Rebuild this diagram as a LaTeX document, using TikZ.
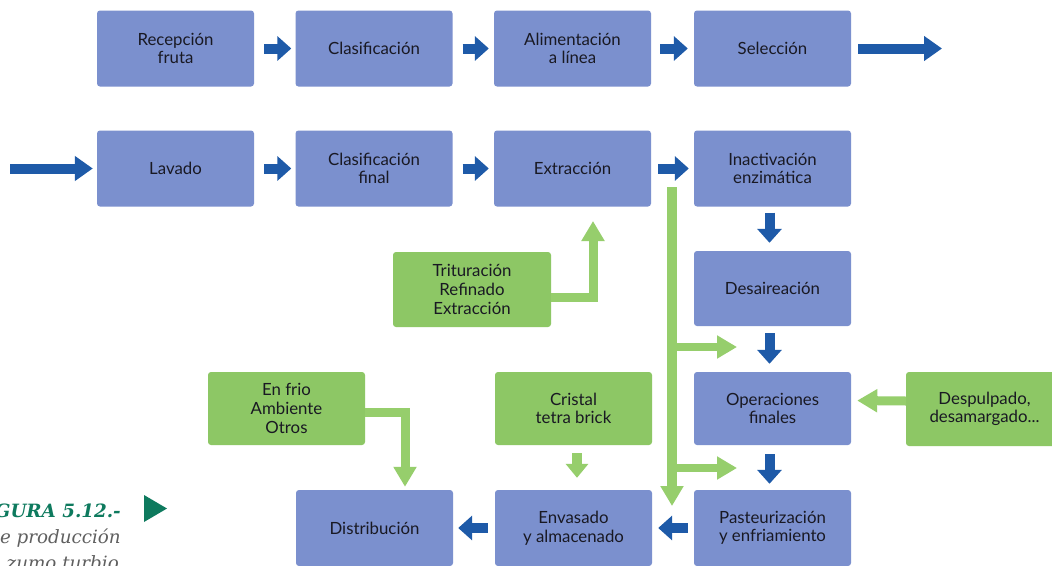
\documentclass[tikz,border=0pt]{standalone}
\usepackage{fontspec}
\setmainfont{Lato}
\newfontfamily\capfont{DejaVu Serif}
\usetikzlibrary{arrows.meta}
\definecolor{boxblue}{RGB}{123,144,206}
\definecolor{boxgreen}{RGB}{141,199,101}
\definecolor{arrblue}{RGB}{30,90,168}
\definecolor{arrgreen}{RGB}{150,206,108}
\definecolor{capgreen}{RGB}{14,122,94}
\definecolor{capgray}{RGB}{95,95,95}
\definecolor{txt}{RGB}{25,25,35}
\begin{document}
\begin{tikzpicture}[x=1pt,y=-1pt,
  bbox/.style={fill=boxblue, rounded corners=3pt, minimum width=157pt, minimum height=76pt,
    inner sep=0pt, align=center, text=txt, font=\fontsize{16.8}{18.6}\selectfont},
  gbox/.style={bbox, fill=boxgreen},
  barrow/.style={draw=arrblue, line width=10pt, -{Triangle[length=14pt,width=24pt]}},
  blong/.style={draw=arrblue, line width=10pt, -{Triangle[length=18pt,width=24pt]}},
  garrow/.style={draw=arrgreen, line width=9pt, -{Triangle[length=20pt,width=22pt]}},
  gshort/.style={draw=arrgreen, line width=10pt, -{Triangle[length=14pt,width=22pt]}},
  captext/.style={anchor=base east, inner sep=0pt, font=\capfont\itshape\fontsize{18.3}{22}\selectfont, text=capgray},
]
\useasboundingbox (0,0) rectangle (1052,565);
\clip (0,0) rectangle (1052,565);
\fill[white] (0,0) rectangle (1052,565);

% row 1
\node[bbox] (rec) at (175.5,48.5) {Recepción\\fruta};
\node[bbox] (cla) at (374,48.5) {Clasificación};
\node[bbox] (ali) at (572.5,48.5) {Alimentación\\a línea};
\node[bbox] (sel) at (772.5,48.5) {Selección};
% row 2
\node[bbox] (lav) at (175.5,168.5) {Lavado};
\node[bbox] (clf) at (374,168.5) {Clasificación\\final};
\node[bbox] (ext) at (572.5,168.5) {Extracción};
\node[bbox] (ina) at (772.5,168.5) {Inactivación\\enzimática};
% column
\node[bbox, minimum height=75pt] (des) at (772.5,288.5) {Desaireación};
\node[bbox, minimum height=73pt] (ope) at (772.5,408.5) {Operaciones\\finales};
\node[bbox] (pas) at (772.5,528) {Pasteurización\\y enfriamiento};
\node[bbox] (env) at (573.5,528) {Envasado\\y almacenado};
\node[bbox] (dis) at (374.5,528) {Distribución};
% green boxes
\node[gbox, minimum width=158pt, minimum height=75pt] (tri) at (472,289.5) {Trituración\\Refinado\\Extracción};
\node[gbox, minimum height=73pt] (enf) at (286.5,408.5) {En frio\\Ambiente\\Otros};
\node[gbox, minimum height=73pt] (cri) at (573.5,408.5) {Cristal\\tetra brick};
\node[gbox, minimum height=74pt] (dsp) at (984.5,409) {Despulpado,\\desamargado...};

% blue arrows
\draw[barrow, shorten <=10pt, shorten >=4pt] (rec) -- (cla);
\draw[barrow, shorten <=10pt, shorten >=5pt] (cla) -- (ali);
\draw[barrow, shorten <=9pt, shorten >=6pt] (ali) -- (sel);
\coordinate (out1) at (942,48.5);
\draw[blong, shorten <=7pt] (sel) -- (out1);
\coordinate (in2) at (10,168.5);
\draw[blong, shorten >=4pt] (in2) -- (lav);
\draw[barrow, shorten <=10pt, shorten >=4pt] (lav) -- (clf);
\draw[barrow, shorten <=10pt, shorten >=5pt] (clf) -- (ext);
\draw[barrow, shorten <=7pt, shorten >=5pt] (ext) -- (ina);
\draw[barrow, shorten <=6pt, shorten >=8pt] ([xshift=-3pt]ina.south) -- ([xshift=-3pt]des.north);
\draw[barrow, shorten <=7pt, shorten >=8pt] ([xshift=-3pt]des.south) -- ([xshift=-3pt]ope.north);
\draw[barrow, shorten <=9pt, shorten >=6pt] ([xshift=-3pt]ope.south) -- ([xshift=-3pt]pas.north);
\draw[barrow, shorten <=6pt, shorten >=6pt] (pas) -- (env);
\draw[barrow, shorten <=7pt, shorten >=5pt] (env) -- (dis);

% green arrows
\coordinate (tritip) at (593,221);
\draw[garrow] ([yshift=-7.5pt]tri.east) -| (tritip);
\coordinate (gtop) at (672,187);
\coordinate (gbot) at (672,506);
\draw[garrow, line width=10pt] (gtop) -- (gbot);
\coordinate (b1) at (672,347);
\coordinate (b1e) at (737,347);
\coordinate (b2) at (672,468);
\coordinate (b2e) at (737,468);
\draw[garrow, line width=8pt] (b1) -- (b1e);
\draw[garrow, line width=8pt] (b2) -- (b2e);
\draw[garrow, shorten >=6pt] ([yshift=8pt]dsp.west) -- ([yshift=8pt]ope.east);
\draw[gshort, shorten <=8pt, shorten >=12pt] ([xshift=3.5pt]cri.south) -- ([xshift=3.5pt]env.north);
\draw[garrow] ([yshift=-3.5pt]enf.east) -| ([xshift=30.5pt,yshift=3pt]dis.north);

% caption
\node[captext, font=\capfont\itshape\bfseries\fontsize{18.3}{22}\selectfont, text=capgreen] (cap1) at (121,517) {FIGURA 5.12.-};
\node[captext] (cap2) at (121,543) {de producción};
\node[captext] (cap3) at (119,569) {zumo turbio};
\fill[capgreen] (144,495) -- (167,508.5) -- (144,522) -- cycle;
\end{tikzpicture}
\end{document}
